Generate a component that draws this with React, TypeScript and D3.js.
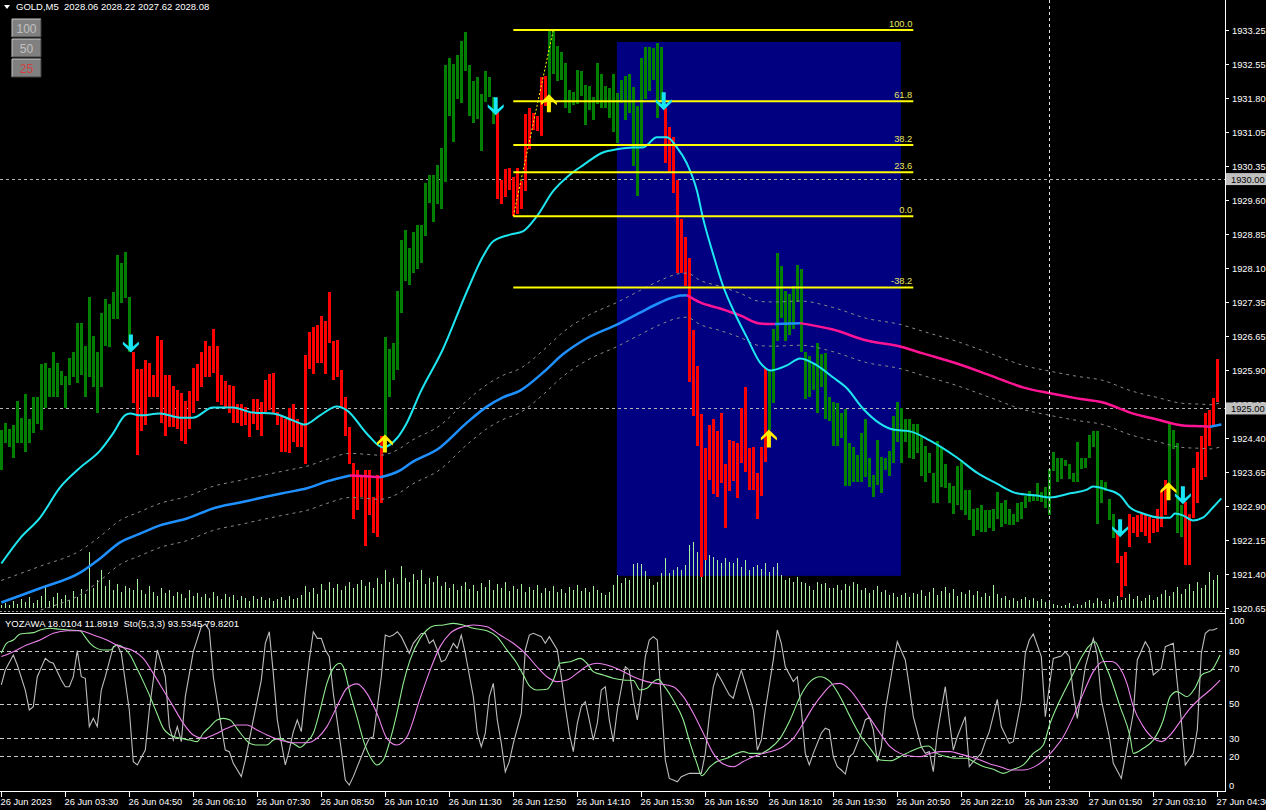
import * as d3 from "d3";

// ---- price bodies [high, low] per bar (5 min bars) ----
const bodiesA: [number, number][] = [
  [1924.52,1923.65],[1924.69,1924.24],[1924.56,1924.15],[1924.63,1923.91],[1925.17,1924.24],[1924.80,1924.24],[1925.31,1924.04],[1924.78,1924.24],[1925.24,1924.46],[1925.24,1924.67],
  [1925.96,1924.52],[1926.00,1925.02],[1925.89,1925.24],[1926.24,1925.26],[1926.00,1925.24],[1925.81,1925.52],[1925.71,1925.00],[1926.11,1925.52],[1926.22,1925.68],[1926.87,1925.55],
  [1926.87,1925.72],[1926.37,1925.26],[1927.42,1925.68],[1926.57,1925.46],[1926.22,1924.89],[1927.07,1925.46],[1927.38,1926.37],[1927.27,1926.33],[1927.53,1926.96],[1928.34,1926.96],
  [1928.18,1927.29],[1928.42,1927.40],[1927.42,1926.22],
  [1926.22,1925.11],[1925.87,1923.98],[1925.85,1924.50],[1926.05,1924.63],[1926.00,1925.24],[1925.72,1925.24],[1926.59,1925.24],
  [1926.50,1924.69],[1925.72,1924.39],[1925.74,1924.59],[1925.48,1924.59],[1925.41,1924.56],[1925.33,1924.28],[1925.17,1924.22],[1925.37,1924.56],[1925.89,1924.89],[1925.96,1925.17],
  [1926.24,1925.46],[1926.48,1925.68],[1926.37,1925.68],[1926.74,1925.78],[1926.37,1925.13],[1925.74,1925.07],[1925.59,1925.00],[1925.52,1924.89],[1925.48,1924.69],[1925.09,1924.69],
  [1925.09,1924.61],[1925.04,1924.63],[1924.89,1924.37],[1925.20,1924.67],[1925.20,1924.54],[1925.13,1924.39],[1925.61,1924.93],[1925.76,1924.96],[1925.78,1924.89],[1924.93,1924.63],
  [1924.83,1924.06],[1924.78,1924.04],[1925.00,1924.02],[1925.09,1924.26],[1924.78,1924.17],[1924.69,1924.15],[1926.16,1923.80],[1926.66,1925.87],[1926.77,1925.76],[1926.83,1925.98],
  [1927.01,1925.98],[1926.90,1925.76],[1927.53,1926.42],[1926.48,1925.63],[1926.50,1925.68],[1925.83,1925.02],[1925.26,1924.41],[1924.59,1923.80],[1923.82,1922.60],[1923.65,1922.78],
  [1923.50,1923.06],[1923.65,1922.01],[1923.65,1922.67],[1923.06,1922.28],[1923.54,1922.19],[1924.41,1922.93],
];
const bodiesB: [number, number][] = [
  [1926.55,1924.30],[1926.29,1925.24],[1926.42,1925.61],[1927.55,1925.83],
  [1928.68,1927.09],[1928.88,1927.77],[1928.49,1927.69],[1928.84,1927.96],[1928.99,1928.03],[1928.99,1928.16],[1929.91,1928.75],[1930.08,1929.47],[1930.08,1929.07],[1930.30,1929.45],
  [1930.67,1929.34],[1932.48,1929.93],[1932.65,1931.37],[1932.50,1930.81],[1932.70,1931.74],[1933.02,1931.65],[1933.20,1932.35],[1932.48,1931.37],[1932.13,1931.23],[1932.22,1931.30],
  [1931.85,1930.62],[1932.35,1931.67],[1932.22,1931.78],[1931.80,1931.19],[1931.52,1929.56],[1929.99,1929.45],[1930.21,1929.62],[1930.25,1929.76],[1930.04,1929.19],[1930.25,1929.23],
  [1929.95,1929.34],[1931.41,1929.73],[1931.54,1930.65],[1931.45,1931.06],[1931.37,1931.04],[1932.22,1930.95],[1932.24,1931.59],[1933.22,1931.63],[1933.22,1932.28],[1932.91,1932.13],
  [1932.76,1932.17],[1932.52,1931.54],[1931.95,1931.43],[1931.89,1931.61],[1932.37,1931.63],[1932.35,1931.82],[1932.06,1931.17],[1932.02,1931.50],[1931.78,1931.28],[1932.54,1931.63],
  [1932.28,1931.56],[1932.04,1931.54],[1931.98,1931.34],[1932.28,1931.02],[1931.87,1930.78],[1932.17,1931.65],[1932.24,1931.28],[1932.28,1931.43],[1932.00,1930.28],[1931.59,1929.64],
  [1932.63,1930.69],[1932.87,1931.74],[1932.87,1931.91],[1932.85,1932.15],[1932.96,1931.34],[1932.89,1931.67],[1931.54,1930.36],[1931.13,1930.14],[1930.91,1929.69],[1929.99,1927.96],
  [1929.14,1927.96],[1928.73,1927.68],[1928.29,1925.57],[1926.70,1924.83],[1925.92,1924.19],[1924.87,1921.32],[1924.13,1921.69],[1924.65,1923.43],[1924.76,1923.13],[1924.50,1923.06],
  [1924.91,1923.37],[1923.80,1922.39],[1924.32,1923.21],[1924.28,1923.41],[1924.24,1923.04],[1925.00,1923.82],[1925.46,1923.61],[1924.13,1923.23],[1924.17,1923.23],[1923.60,1922.58],
  [1924.17,1923.10],[1925.89,1923.84],
];
const bodiesC: [number, number][] = [
  [1925.81,1924.52],[1926.74,1925.11],[1928.38,1926.48],[1928.10,1926.98],[1927.57,1926.46],[1927.49,1926.61],[1927.68,1926.74],[1928.12,1927.33],
  [1928.03,1926.22],[1926.22,1925.20],[1926.14,1925.26],[1925.98,1925.41],[1926.42,1924.89],[1926.18,1925.46],[1926.20,1924.78],[1925.24,1924.72],[1925.15,1924.19],[1925.11,1924.19],
  [1924.89,1924.35],[1924.98,1923.30],[1924.24,1923.30],[1924.17,1923.39],[1923.98,1923.39],[1924.46,1923.39],[1924.76,1923.50],[1923.91,1923.28],[1923.54,1923.08],[1924.32,1923.34],
  [1923.95,1923.15],[1923.93,1923.65],[1924.08,1923.52],[1924.83,1923.82],[1925.15,1924.26],[1925.02,1923.82],[1924.76,1924.26],[1924.76,1923.91],[1924.67,1923.89],[1924.67,1924.02],
  [1924.41,1923.52],[1924.19,1923.39],[1924.02,1923.60],[1923.60,1922.93],[1924.28,1922.93],[1924.15,1923.28],[1923.80,1923.26],[1923.37,1922.93],[1923.32,1922.71],[1923.74,1922.89],
  [1923.87,1922.78],[1923.23,1922.67],[1923.23,1922.56],[1922.80,1922.23],[1922.84,1922.34],[1922.89,1922.30],[1922.78,1922.30],[1922.78,1922.39],[1922.80,1922.32],[1923.17,1922.60],
  [1922.93,1922.41],[1923.00,1922.49],[1922.80,1922.45],[1922.71,1922.45],[1922.93,1922.52],[1922.95,1922.60],[1923.10,1922.84],[1923.21,1922.95],[1923.13,1922.99],[1923.37,1922.99],
  [1923.17,1922.97],[1923.28,1922.84],[1923.67,1922.67],[1924.04,1923.63],[1923.93,1923.39],[1923.93,1923.47],[1923.87,1923.74],[1923.78,1923.47],[1923.60,1923.39],[1924.26,1923.39],
  [1923.93,1923.67],[1923.93,1923.71],[1924.43,1923.91],[1924.50,1924.15],[1924.50,1922.49],[1923.43,1922.93],[1923.39,1923.19],[1923.02,1922.56],[1922.71,1922.17],[1922.34,1921.63],
  [1921.78,1920.90],[1921.86,1921.14],[1922.71,1921.99],[1922.63,1922.28],[1922.67,1922.19],[1922.71,1922.30],[1922.71,1922.21],[1922.63,1922.06],[1922.58,1922.28],[1922.80,1922.30],
  [1923.21,1922.41],[1923.43,1922.67],[1924.69,1923.28],[1924.52,1924.11],[1924.24,1922.28],[1922.89,1922.19],[1922.95,1921.58],[1922.71,1921.58],[1923.71,1922.62],[1924.04,1922.93],
  [1924.41,1923.43],[1924.89,1923.50],[1924.96,1924.19],[1925.22,1924.63],[1926.07,1925.13],
];
const bodies = [...bodiesA, ...bodiesB, ...bodiesC];

// bar index where trend colour switches (true = up / green)
const trendSwitch: [number, boolean][] = [
  [0, true], [33, false], [96, true], [124, false], [137, true], [166, false],
  [192, true], [279, false], [292, true], [296, false],
];

const volumes = [
  3,5,3,7,4,9,6,11,5,8,12,23,
  7,11,15,9,13,8,17,11,19,14,
  56,20,28,38,22,28,18,24,16,22,20,18,29,
  18,14,22,16,12,20,15,18,12,16,14,10,18,12,15,11,
  14,10,16,12,9,14,11,13,8,12,10,7,12,9,11,8,10,7,9,11,8,12,9,10,13,
  22,16,20,14,24,18,26,20,24,18,22,26,20,24,28,22,26,20,30,24,
  38,26,30,24,42,30,26,34,28,38,24,30,26,32,22,
  26,20,24,18,22,26,19,23,17,25,21,28,18,24,20,26,17,22,19,24,16,21,18,23,15,20,17,22,16,19,15,21,18,23,17,20,16,22,18,
  15,13,16,23,33,25,30,28,44,45,44,37,29,23,26,35,50,35,38,41,38,43,63,66,56,73,66,53,51,48,
  45,50,46,45,50,41,48,38,41,43,39,45,36,41,45,33,28,30,26,31,26,25,22,18,26,24,25,20,20,23,
  18,24,22,26,24,18,20,15,18,22,16,18,13,15,11,13,15,11,15,
  14,18,12,16,20,13,17,21,15,19,12,16,14,18,13,17,11,15,12,23,14,10,12,8,10,7,9,11,8,10,7,9,
  6,8,4,3,2,3,5,2,4,3,6,8,5,10,7,4,9,6,12,8,10,14,9,12,7,10,13,8,11,14,
  18,12,16,21,14,19,24,17,26,20,23,36,28,33,
];

// moving averages [bar, price]
const fastMA: [number, number][] = [
  [0,1921.62],[4.7,1922.17],[9.7,1922.62],[14.7,1923.28],[19.7,1923.71],[24.7,1924.08],[27.9,1924.45],[30.9,1924.85],[32.2,1924.89],[34.7,1924.85],
  [39.7,1924.89],[44.7,1924.80],[47.9,1924.80],[52.9,1925.02],[57.9,1925.02],[62.9,1924.91],[67.9,1924.89],[72.9,1924.74],[75.9,1924.65],[79.7,1924.85],
  [83.9,1925.04],[86.4,1924.96],[91.4,1924.45],[95.4,1924.15],[98.9,1924.35],[101.4,1924.69],[104.7,1925.34],[110.4,1926.29],[116.4,1927.55],[120.4,1928.31],
  [122.9,1928.64],[127.2,1928.79],[130.4,1928.86],[133.9,1929.19],[137.9,1929.73],[142.2,1930.10],[145.4,1930.30],[150.4,1930.58],[153.9,1930.65],[157.9,1930.69],
  [160.4,1930.69],[163.9,1930.91],[166.4,1930.91],[168.9,1930.69],[171.4,1930.34],[173.9,1929.75],[175.4,1929.16],[177.9,1928.38],[180.4,1927.68],[183.4,1927.07],
  [186.4,1926.55],[189.7,1926.00],[192.2,1925.83],[196.4,1925.94],[199.7,1926.09],[203.9,1925.94],[207.9,1925.68],[211.4,1925.44],[215.4,1925.00],[219.7,1924.67],
  [222.9,1924.54],[227.2,1924.50],[232.2,1924.30],[238.9,1923.93],[243.9,1923.60],[248.9,1923.36],[253.9,1923.15],[258.9,1923.10],[262.2,1923.06],[267.2,1923.15],
  [271.4,1923.23],[272.9,1923.30],[276.4,1923.23],[279.7,1923.10],[282.2,1922.84],[285.4,1922.71],[289.7,1922.62],[292.2,1922.62],[293.4,1922.71],[295.4,1922.67],
  [297.9,1922.56],[300.4,1922.62],[302.9,1922.84],[305,1923.04],
];
const slowMA: [number, number][] = [
  [0,1920.77],[9.7,1921.08],[19.7,1921.42],[24.7,1921.73],[29.7,1922.08],[34.7,1922.27],[39.7,1922.45],[46.4,1922.60],[52.9,1922.82],[59.7,1922.95],
  [66.4,1923.08],[71.4,1923.17],[76.4,1923.26],[81.4,1923.41],[87.2,1923.54],[91.2,1923.52],[94.7,1923.50],[99.7,1923.65],[102.2,1923.80],[109.7,1924.15],
  [116.4,1924.69],[121.4,1925.04],[125.4,1925.24],[129.7,1925.39],[135.4,1925.78],[140.4,1926.18],[146.4,1926.53],[153.9,1926.83],[159.7,1927.09],[164.7,1927.31],
  [169.7,1927.46],[171.4,1927.47],[174.7,1927.31],[179.7,1927.18],[184.7,1927.03],[189.7,1926.85],[193.4,1926.84],[199.7,1926.86],[207.9,1926.72],[216.4,1926.48],
  [224.7,1926.35],[230.4,1926.20],[238.9,1925.98],[247.2,1925.72],[255.4,1925.46],[262.2,1925.33],[268.9,1925.22],[275.4,1925.13],[282.2,1924.91],[288.9,1924.76],
  [295.4,1924.63],[300.4,1924.61],[302.2,1924.60],[305,1924.65],
];
const envelopePct = 0.025;

// signal arrows: [bar, tip price]
const downSignals: [number, number][] = [[32.4,1926.22],[123.6,1931.39],[165.6,1931.50],[279.7,1922.19],[295.4,1922.91]];
const upSignals: [number, number][] = [[95.9,1924.43],[136.9,1931.85],[191.9,1924.54],[291.8,1923.39]];

// fibonacci retracement
const fibLow = 1929.19;
const fibHigh = 1933.25;
const fibBars: [number, number] = [128, 228];
const fibTrend: [number, number] = [128, 138];
const fibLevels = [100, 61.8, 38.2, 23.6, 0, -38.2];

// rectangle object
const zoneBars: [number, number] = [153.9, 224.9];
const zonePrices: [number, number] = [1932.99, 1921.35];

// price axis
const priceTop = 1933.25;
const priceBottom = 1920.65;
const priceLabels = ["1933.25","1932.55","1931.80","1931.05","1930.35","1929.60","1928.85","1928.10","1927.35","1926.65","1925.90","1925.15","1924.40","1923.65","1922.90","1922.15","1921.40","1920.65"];
const markedPrices = [1930.0, 1925.0];
const markedBar = 262;

const timeLabels = ["26 Jun 2023","26 Jun 03:30","26 Jun 04:50","26 Jun 06:10","26 Jun 07:30","26 Jun 08:50","26 Jun 10:10","26 Jun 11:30","26 Jun 12:50","26 Jun 14:10","26 Jun 15:30","26 Jun 16:50","26 Jun 18:10","26 Jun 19:30","26 Jun 20:50","26 Jun 22:10","26 Jun 23:30","27 Jun 01:50","27 Jun 03:10","27 Jun 04:30"];
const barsPerLabel = 16;

// oscillator window [bar, value]
const stoMain: [number, number][] = [
  [0,60.6],[1,69.1],[3,77.7],[4,72],[6,57.7],[7,46.3],[8,48.2],[9,65.3],[11,75.8],[12,73.9],[13,73],[15,63.4],[16,59.6],[17,59.6],[18,65.3],[19,80.2],[20,65.3],[21,64.4],[22,36.8],[23,41.5],
  [24,36.8],[25,57.7],[26,65.3],[28,82.5],[29,83.4],[30,78.7],[32,46.3],[33,16.7],[34,14.9],[36,23.4],[37,46.3],[39,80.6],[41,65.3],[42,36.8],[43,29.1],[44,36.8],[45,28.2],[46,53.9],[48,79.6],[50,93.9],
  [51,95.4],[52,92],[53,65.3],[55,36.8],[56,23.4],[57,22.5],[58,15.8],[60,8.2],[61,17.7],[63,40.6],[65,63.4],[66,84.4],[67,91],[68,67.2],[69,40.6],[71,14.9],[72,23.4],[73,33.9],[74,40.6],[75,33.9],
  [76,55.8],[77,74.9],[78,91],[79,87.2],[80,87.2],[81,80.6],[82,76.7],[83,55.8],[85,23.4],[86,6.3],[87,3.4],[88,8.2],[90,19.6],[91,25.3],[92,30.1],[93,31],[95,65.3],[96,89.1],[97,88.2],[98,89.1],
  [99,91],[100,88.2],[102,78.7],[103,84.4],[105,90],[106,90.1],[107,84.4],[108,86.3],[109,80.6],[110,73.9],[111,74.9],[112,79.6],[113,84.4],[114,81.5],[115,89.1],[116,78.7],[118,53.9],[119,33],[120,25.3],[121,33],
  [122,53.9],[123,61.5],[124,40.6],[125,27.2],[126,11],[127,16.8],[128,27.2],[130,44.4],[131,80.6],[132,89.1],[133,90.1],[135,88.2],[136,84.4],[137,88.2],[139,80.6],[140,65.3],[141,48.2],[142,33],[143,22.5],[144,38.7],
  [145,48.2],[146,51],[147,40.6],[148,29.1],[149,38.7],[150,57.7],[151,59.6],[152,40.6],[153,28.2],[154,46.3],[156,71],[157,69.1],[158,52],[159,40.6],[160,55.8],[161,76.8],[162,86.3],[163,88.2],[164,86.3],[165,52],
  [166,17.7],[167,7.2],[168,6.3],[169,5.3],[170,8.2],[171,9.1],[172,10.1],[173,10.1],[175,10.1],[176,21.5],[177,42.5],[178,59.6],[179,67.2],[180,63.4],[182,54.9],[183,53],[184,61.5],[185,69.1],[186,61.5],[188,46.3],
  [189,23.4],[190,29.1],[191,46.3],[193,74.9],[194,92],[195,84.4],[196,71],[198,62.5],[199,65.3],[200,46.3],[201,21.5],[202,14.9],[203,21.5],[205,33],[206,35.9],[207,34.9],[208,19.6],[209,13.9],[210,12],[211,9.7],
  [212,19.6],[213,21.5],[215,33],[216,40.6],[217,42.1],[218,34.9],[219,16.8],[220,25.3],[221,46.3],[223,73],[224,85.3],[226,74.9],[227,59.6],[228,42.5],[230,25.3],[231,21.5],[232,22.5],[233,11],[234,33],[236,59.6],
  [237,40.6],[238,23.4],[239,31],[241,42.5],[242,13.9],[243,16.8],[245,21.5],[246,28.2],[247,33.9],[249,52.4],[250,36.8],[252,27.2],[253,28.2],[255,52],[256,78.7],[257,86.3],[258,89.7],[260,76.8],[261,42.5],[262,59.6],
  [263,75.8],[265,77.1],[266,79.6],[267,76.8],[268,55.8],[269,41.5],[270,55.8],[271,71],[273,87.2],[274,77.7],[275,52],[277,31],[278,15.8],[280,7.2],[281,19.6],[283,44.4],[284,74.9],[286,85.3],[287,81.5],[288,66.3],
  [290,70.1],[291,82.5],[293,84.4],[294,61.5],[295,40.6],[296,14.9],[298,21.5],[299,34.9],[300,78.7],[301,90.1],[302,92],[303,92],[304,93],
];
const stoSignal: [number, number][] = [
  [0,78.7],[1.3,84.4],[3,86.3],[4.7,89.7],[6.3,90.1],[8,90.5],[9.7,92],[12.2,93],[14.7,92.4],[17.2,92],[19.7,91.6],[20.9,88.2],[22.2,84.4],[23.9,81.5],[25.5,80.6],[27.2,80.6],[28.9,83.4],[30.5,82.1],[32.2,77.7],[33.9,70.1],
  [35.5,62.5],[37.2,53.9],[38.9,44.4],[40.5,35.8],[42.2,32],[44.7,30.1],[47.2,29.1],[48.9,28.2],[50.5,33],[52.2,36.8],[53.9,40.6],[55.5,41.5],[57.2,40.6],[58.9,35.8],[60.5,31],[62.2,27.2],[63.9,26.3],[66.4,26.3],[68,29.1],[69.7,30.1],
  [71.4,28.2],[73,27.2],[74.7,24.9],[76.4,28.2],[78,33],[79.7,46.3],[81.4,61.5],[83,70.1],[84.7,73],[85.5,71],[87.2,55.8],[88.9,42.5],[90.5,29.1],[92.2,19.6],[93.9,14.9],[95.5,17.7],[97.2,29.1],[98.9,44.4],[100.5,61.5],[102.2,74.9],
  [104.7,87.2],[106.4,92],[108,94.3],[110.5,94.9],[113,95.8],[115.5,94.9],[118,93],[121.4,91.6],[123.9,88.2],[126.4,80.6],[128.9,73],[130.5,66.3],[132.2,59.6],[133.9,57.7],[136.4,58.1],[138,63.4],[139.7,73],[142.2,73.9],[144.7,75.8],[146.4,73],
  [148,68.2],[150.5,66.3],[153,64.4],[155.5,63.4],[158,63.1],[159.7,57.7],[161.4,58.7],[163,62.5],[164.3,63.8],[165.5,60.6],[168,52],[170.5,40.6],[172.2,27.2],[173.9,15.8],[175.1,8.7],[177.2,13.9],[178.9,16.8],[181.4,18.7],[183.9,21.5],[185.5,22.5],
  [187.2,21.5],[189.7,21.5],[192.2,24.4],[194.7,30.1],[197.2,40.6],[199.7,53.9],[202.2,62.5],[204.7,65.3],[207.2,62.5],[209.7,53.9],[212.2,42.5],[214.7,32],[217.2,24.4],[219.7,17.7],[222.2,17.3],[224.7,19.6],[227.2,22.5],[229.7,24.9],[231.8,25.7],[233.9,21.5],
  [236.4,19.6],[238.9,18.7],[241.4,18.7],[243,16.8],[245.5,14],[248,12.4],[250.5,10.1],[253,12.4],[255.5,14.9],[258,21.5],[260.5,26.3],[262.2,38.7],[264.7,52],[267.2,63.4],[269.7,74.9],[271.8,82.5],[273.4,85.3],[275.1,76.8],[277.2,65.3],[279.7,48.2],
  [282.2,31],[283,21.5],[285.5,24.4],[288,29.1],[290.5,40.6],[292.2,53.9],[293.9,56.8],[296.4,53.9],[298.4,58.7],[300.1,66.3],[302.6,69.1],[304.7,77.7],
];
const yozawa: [number, number][] = [
  [0,76.8],[3,79.6],[6.3,83.4],[9.7,86.3],[13,90.1],[16.4,91.6],[19.7,91.6],[23,89.1],[26.4,86.3],[29.7,82.5],[33,80.2],[35.5,75.8],[38,67.2],[40.5,57.7],[43,48.2],[45.5,38.7],[48,32],[50.5,30.1],[53,32],[56.4,35.8],
  [58.9,37.7],[61.4,37.7],[63.9,34.9],[66.4,32],[69.7,29.1],[73,27.6],[76.4,27.6],[78.9,30.1],[81.4,36.8],[83.9,48.2],[86.4,58.7],[88.9,61.2],[91.4,55.8],[93.9,44.4],[96.4,30.1],[98.9,26.3],[101.4,31],[104.7,52.9],[107.2,69.1],[109.7,82.5],
  [112.2,90.1],[115.5,93.9],[118,94.9],[121.4,93.9],[124.7,89.1],[128,84.4],[131.4,77.7],[133.9,71],[136.4,65.3],[138.9,62.5],[141.4,63.4],[143.9,67.2],[146.4,71.4],[148.9,73],[151.4,72],[154.7,69.1],[158,65.3],[161.4,62.5],[164.7,61.2],[168,59.6],
  [170.5,53.9],[173,44.4],[175.5,33],[178,21.5],[180.5,15.4],[183,13.9],[185.5,16.8],[188,19.6],[190.5,21.5],[193,23],[195.5,25.3],[198,30.1],[200.5,38.7],[203,48.2],[205.5,55.8],[208,61.1],[209.7,61.5],[212.2,57.7],[214.7,50.1],[217.2,41.5],
  [219.7,33],[222.2,25.3],[224.7,21.5],[227.2,20],[229.7,19.6],[232.2,21.5],[234.7,22.5],[237.2,22.5],[239.7,21.1],[242.2,19.6],[244.7,17.7],[247.2,15.4],[249.7,13.9],[252.2,12],[255.5,12],[258,13.5],[260.5,17.3],[263,23.4],[265.5,31],[268,42.5],
  [270.5,55.8],[273,68.2],[275.5,74],[277.6,74],[279.7,70.1],[281.4,61.5],[283,48.2],[285.5,36.8],[288,30.1],[290.1,28.2],[292.2,32],[294.7,39.6],[297.2,47.2],[299.7,52.9],[302.2,57.7],[304.7,63.4],
];
const oscLevels = [80, 70, 50, 30, 20];
const oscLabels = [100, 80, 70, 50, 30, 20, 0];

const FONT = "Liberation Sans, Arial, sans-serif";
const RIGHT = 1225;

function arrowPath(up: boolean) {
  const s = up ? 1 : -1;
  const pts = [[0,0],[8,8],[8,11],[2,6],[2,18],[-2,18],[-2,6],[-8,11],[-8,8]];
  return "M" + pts.map(([a, b]) => `${a},${b * s}`).join("L") + "Z";
}

export default function App() {
  const x = d3.scaleLinear().domain([0, 304]).range([1.3, 1217.3]);
  const y = d3.scaleLinear().domain([priceBottom, priceTop]).range([608, 30]);
  const yVol = d3.scaleLinear().domain([0, 100]).range([608, 508]);
  const yOsc = d3.scaleLinear().domain([0, 100]).range([791, 616]);

  const isUp = (i: number) => {
    let up = true;
    for (const [b, u] of trendSwitch) if (i >= b) up = u;
    return up;
  };

  const priceLine = d3.line<[number, number]>().x((d) => x(d[0])).y((d) => y(d[1])).curve(d3.curveMonotoneX);
  const oscLine = d3.line<[number, number]>().x((d) => x(d[0])).y((d) => yOsc(d[1]));
  const oscSmooth = oscLine.curve(d3.curveMonotoneX);
  const oscRaw = d3.line<[number, number]>().x((d) => x(d[0])).y((d) => yOsc(d[1]));

  // slow MA colour runs (blue rising, magenta falling)
  const runs: { up: boolean; pts: [number, number][] }[] = [];
  for (let i = 1; i < slowMA.length; i++) {
    const up = slowMA[i][1] >= slowMA[i - 1][1];
    const last = runs[runs.length - 1];
    if (last && last.up === up) last.pts.push(slowMA[i]);
    else runs.push({ up, pts: [slowMA[i - 1], slowMA[i]] });
  }
  const envUp = slowMA.map(([b, p]) => [b, p * (1 + envelopePct / 100)] as [number, number]);
  const envDn = slowMA.map(([b, p]) => [b, p * (1 - envelopePct / 100)] as [number, number]);

  const fibPrice = (lv: number) => fibLow + (fibHigh - fibLow) * lv / 100;
  const priceTicks = priceLabels.map((t, i) => ({
    label: t,
    v: priceTop - (i * (priceTop - priceBottom)) / (priceLabels.length - 1),
  }));

  return (
    <svg width={1266} height={810} style={{ position: "fixed", left: 0, top: 0, background: "#000" }} fontFamily={FONT}>
      <rect width={1266} height={810} fill="#000" />
      <defs>
        <clipPath id="main"><rect x={0} y={0} width={RIGHT} height={612} /></clipPath>
        <clipPath id="osc"><rect x={0} y={614} width={RIGHT} height={177} /></clipPath>
      </defs>

      <g clipPath="url(#main)">
        {/* rectangle zone */}
        <rect x={x(zoneBars[0])} y={y(zonePrices[0])} width={x(zoneBars[1]) - x(zoneBars[0])} height={y(zonePrices[1]) - y(zonePrices[0])} fill="#000080" />
        {/* marked prices */}
        {markedPrices.map((p) => (
          <line key={p} x1={0} x2={RIGHT} y1={Math.round(y(p)) + 0.5} y2={Math.round(y(p)) + 0.5} stroke="#b4b4b4" strokeDasharray="3,3" />
        ))}
        {/* volumes */}
        {volumes.map((v, i) => (
          <line key={i} x1={Math.round(x(i)) + 0.5} x2={Math.round(x(i)) + 0.5} y1={608} y2={yVol(v)} stroke="#a8f0a0" strokeWidth={1} />
        ))}
        {/* bars */}
        {bodies.map(([hi, lo], i) => (
          <rect key={i} x={Math.round(x(i)) - 1} y={y(hi)} width={3} height={Math.max(1, y(lo) - y(hi))} fill={isUp(i) ? "#008000" : "#ff0000"} shapeRendering="crispEdges" />
        ))}
        {/* envelope */}
        <path d={priceLine(envUp) ?? ""} fill="none" stroke="#8a8a8a" strokeDasharray="3,4" />
        <path d={priceLine(envDn) ?? ""} fill="none" stroke="#8a8a8a" strokeDasharray="3,4" />
        {/* slow MA */}
        {runs.map((r, i) => (
          <path key={i} d={priceLine(r.pts) ?? ""} fill="none" stroke={r.up ? "#1e90ff" : "#ff1493"} strokeWidth={2.5} />
        ))}
        {/* fast MA */}
        <path d={priceLine(fastMA) ?? ""} fill="none" stroke="#1ee6f0" strokeWidth={2} />
        {/* fibonacci */}
        <line x1={x(fibTrend[0])} y1={y(fibLow)} x2={x(fibTrend[1])} y2={y(fibHigh)} stroke="#ffff00" strokeDasharray="2,2" />
        {fibLevels.map((lv) => (
          <g key={lv}>
            <line x1={x(fibBars[0])} x2={x(fibBars[1])} y1={y(fibPrice(lv))} y2={y(fibPrice(lv))} stroke="#ffff00" strokeWidth={2} />
            <text x={x(fibBars[1]) - 1} y={y(fibPrice(lv)) - 3} fill="#e8e860" fontSize={9.3} textAnchor="end">{lv.toFixed(1)}</text>
          </g>
        ))}
        {/* signals */}
        {downSignals.map(([b, p], i) => (
          <path key={"d" + i} d={arrowPath(false)} transform={`translate(${x(b)},${y(p)})`} fill="#19e6f5" />
        ))}
        {upSignals.map(([b, p], i) => (
          <path key={"u" + i} d={arrowPath(true)} transform={`translate(${x(b)},${y(p)})`} fill="#ffee00" />
        ))}
      </g>

      {/* vertical marker */}
      <line x1={Math.round(x(markedBar)) + 0.5} x2={Math.round(x(markedBar)) + 0.5} y1={0} y2={791} stroke="#e0e0e0" strokeDasharray="3,3" />

      {/* header */}
      <path d="M4,5 L10,5 L7,9 Z" fill="#fff" />
      <text x={16} y={10} fill="#fff" fontSize={9.5} style={{ whiteSpace: "pre" }}>{"GOLD,M5  2028.06 2028.22 2027.62 2028.08"}</text>
      {[["100", "#c0c0c0"], ["50", "#c0c0c0"], ["25", "#d04040"]].map(([t, c], i) => (
        <g key={t} transform={`translate(12,${19 + i * 20})`}>
          <rect width={29} height={18} fill="#808080" />
          <path d="M0,18 L0,0 L29,0" fill="none" stroke="#c8c8c8" />
          <path d="M0,18 L29,18 L29,0" fill="none" stroke="#404040" />
          <text x={14.5} y={13.5} textAnchor="middle" fill={c} fontSize={12}>{t}</text>
        </g>
      ))}

      {/* price axis */}
      <line x1={RIGHT + 0.5} x2={RIGHT + 0.5} y1={0} y2={792} stroke="#fff" />
      {priceTicks.map((t) => (
        <g key={t.label}>
          <line x1={RIGHT} x2={RIGHT + 4} y1={Math.round(y(t.v)) + 0.5} y2={Math.round(y(t.v)) + 0.5} stroke="#fff" />
          <text x={1232} y={y(t.v) + 3.5} fill="#fff" fontSize={9.3}>{t.label}</text>
        </g>
      ))}
      {markedPrices.map((p) => (
        <g key={"m" + p}>
          <rect x={1226} y={y(p) - 6} width={40} height={12} fill="#c0c0c0" />
          <text x={1231} y={y(p) + 3.5} fill="#000" fontSize={9.3}>{p.toFixed(2)}</text>
        </g>
      ))}

      {/* oscillator window */}
      <line x1={0} x2={RIGHT} y1={611.5} y2={611.5} stroke="#9a9a9a" strokeDasharray="2,2" />
      <line x1={0} x2={RIGHT} y1={613.5} y2={613.5} stroke="#fff" />
      <g clipPath="url(#osc)">
        {oscLevels.map((l) => (
          <line key={l} x1={0} x2={RIGHT} y1={Math.round(yOsc(l)) + 0.5} y2={Math.round(yOsc(l)) + 0.5} stroke="#c8c8c8" strokeDasharray="4,3" />
        ))}
        <path d={oscRaw(stoMain) ?? ""} fill="none" stroke="#bdbdbd" strokeWidth={1.1} />
        <path d={oscSmooth(stoSignal) ?? ""} fill="none" stroke="#90ee90" strokeWidth={1.1} />
        <path d={oscSmooth(yozawa) ?? ""} fill="none" stroke="#ee82ee" strokeWidth={1.1} />
      </g>
      <text x={5} y={627} fill="#fff" fontSize={9.5} style={{ whiteSpace: "pre" }}>{"YOZAWA 18.0104 11.8919  Sto(5,3,3) 93.5345 79.8201"}</text>
      {oscLabels.map((l) => (
        <text key={l} x={1229} y={Math.min(789, Math.max(624, yOsc(l) + 3.5))} fill="#fff" fontSize={9.3}>{l}</text>
      ))}

      {/* time axis */}
      <line x1={0} x2={RIGHT} y1={791.5} y2={791.5} stroke="#fff" />
      {timeLabels.map((t, i) => {
        const tx = Math.round(x(i * barsPerLabel)) + 0.5;
        return (
          <g key={t}>
            <line x1={tx} x2={tx} y1={792} y2={797} stroke="#fff" />
            <text x={tx - 1} y={805} fill="#fff" fontSize={9.3}>{t}</text>
          </g>
        );
      })}
    </svg>
  );
}
